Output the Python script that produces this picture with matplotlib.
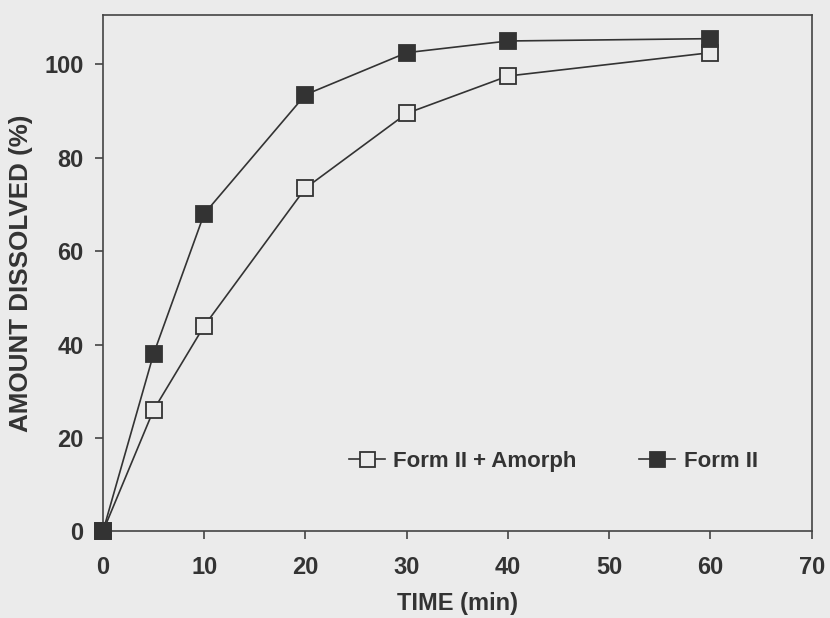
import matplotlib
matplotlib.use("Agg")
import matplotlib.pyplot as plt

# dissolution data
time_min = [0, 5, 10, 20, 30, 40, 60]
form_ii = [0, 38, 68, 93.5, 102.5, 105, 105.5]
form_ii_amorph = [0, 26, 44, 73.5, 89.5, 97.5, 102.5]

x_ticks = [0, 10, 20, 30, 40, 50, 60, 70]
y_ticks = [0, 20, 40, 60, 80, 100]

bg = "#ebebeb"
ink = "#333333"

plt.rcParams["font.family"] = ["Liberation Sans", "DejaVu Sans"]
plt.rcParams["font.weight"] = "bold"

fig = plt.figure(figsize=(8.3, 6.18), dpi=100, facecolor=bg)
ax = fig.add_axes([0.124, 0.140, 0.854, 0.836], facecolor=bg)

ax.plot(time_min, form_ii_amorph, color=ink, lw=1.2, marker="s", ms=12,
        mfc=bg, mec=ink, mew=1.3, label="Form II + Amorph", clip_on=False, zorder=3)
ax.plot(time_min, form_ii, color=ink, lw=1.2, marker="s", ms=12,
        mfc=ink, mec=ink, mew=1.3, label="Form II", clip_on=False, zorder=4)

ax.set_xlim(0, 70)
ax.set_ylim(0, 110.6)
ax.set_xticks(x_ticks)
ax.set_yticks(y_ticks)

for s in ax.spines.values():
    s.set_color("#444444")
    s.set_linewidth(1.2)

ax.tick_params(direction="out", length=6, width=1.2, color="#444444",
               labelsize=17, labelcolor=ink)
ax.tick_params(axis="y", pad=8)
ax.tick_params(axis="x", pad=12)

ax.set_xlabel("TIME (min)", fontsize=17, color=ink, fontweight="bold", labelpad=9)
ax.set_ylabel("AMOUNT DISSOLVED (%)", fontsize=18.7, color=ink, fontweight="bold", labelpad=8)

ax.legend(loc="center left", bbox_to_anchor=(0.319, 0.135), ncol=2, frameon=False,
          fontsize=16, labelcolor=ink, handlelength=1.6, handletextpad=0.4,
          columnspacing=2.8, markerscale=0.9)

fig.savefig("out.png", dpi=100, facecolor=bg)
